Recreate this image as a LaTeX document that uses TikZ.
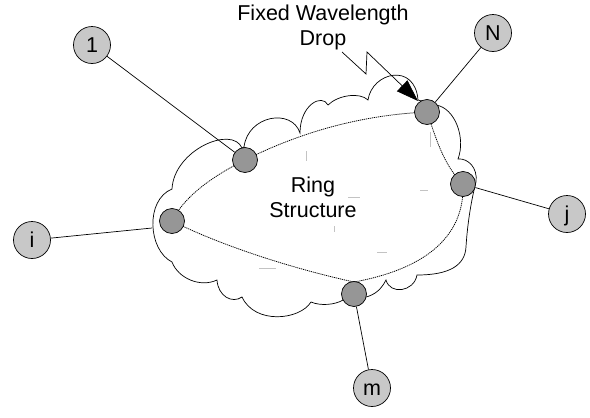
\documentclass[tikz,border=0pt]{standalone}
\usepackage{fontspec}
\setmainfont{Liberation Sans}
\usetikzlibrary{arrows.meta,backgrounds}
\definecolor{outerfill}{RGB}{200,200,200}
\definecolor{innerfill}{RGB}{150,150,150}
\definecolor{ghost}{RGB}{195,195,195}
\begin{document}
\begin{tikzpicture}[x=1pt,y=-1pt,
  every node/.style={font=\fontsize{21.5}{25}\selectfont},
  hostnode/.style={circle,draw,line width=0.7pt,fill=outerfill,minimum size=37pt,inner sep=0pt,text height=15.4pt,text depth=0pt},
  ringnode/.style={circle,draw,line width=0.7pt,fill=innerfill,minimum size=25pt,inner sep=0pt},
  link/.style={line width=0.7pt},
  cloudline/.style={line width=0.7pt},
  ringpath/.style={line width=0.75pt,dash pattern=on 1.2pt off 0.8pt},
  ghostmark/.style={draw=ghost,line width=0.8pt},
  captiontext/.style={align=center,inner sep=0pt}
]
\useasboundingbox (0,0) rectangle (590,418);

% outer host nodes
\node[hostnode] (one) at (92,45) {1};
\node[hostnode] (N) at (493,33) {N};
\node[hostnode] (j) at (567,214) {j};
\node[hostnode] (i) at (32,240) {i};
\node[hostnode] (m) at (372,388) {m};

% ring nodes
\node[ringnode] (A) at (245,160) {};
\node[ringnode] (B) at (427,112) {};
\node[ringnode] (C) at (463,184) {};
\node[ringnode] (D) at (172,221) {};
\node[ringnode] (E) at (354,294) {};

% texts
\node[captiontext] (ringtxt) at (313,197) {Ring\\Structure};
\node[captiontext] (droptxt) at (323,27) {Fixed Wavelength\\Drop};

\coordinate (iend) at (152,228);
\coordinate (z0) at (342,52);
\coordinate (z1) at (366,74);
\coordinate (z2) at (367,52);
\coordinate (dropTip) at (418,101);

\begin{scope}[on background layer]
% cloud
\draw[cloudline] (172,189) .. controls (174,150) and (232,125) .. (242,148)
  -- (244,147)
  .. controls (248,115) and (292,108) .. (300,133)
  .. controls (300,105) and (322,93) .. (328,105)
  .. controls (338,95) and (360,92) .. (368,100)
  .. controls (372,72) and (415,62) .. (418,100)
  -- (436,105)
  .. controls (455,108) and (466,138) .. (458,159)
  .. controls (468,158) and (478,168) .. (476,182)
  .. controls (470,205) and (467,230) .. (466,247)
  .. controls (465,265) and (450,275) .. (417,275)
  .. controls (414,292) and (390,295) .. (386,280)
  .. controls (380,292) and (372,296) .. (362,298)
  -- (343,300)
  .. controls (335,305) and (320,306) .. (311,302)
  .. controls (300,320) and (255,325) .. (242,297)
  .. controls (232,304) and (218,296) .. (217,280)
  .. controls (200,288) and (178,278) .. (172,262)
  .. controls (148,250) and (145,200) .. (172,189) -- cycle;

% faint marks
\draw[ghostmark] (306,151) -- (306,161);
\draw[ghostmark] (430,132) -- (430,147);
\draw[ghostmark] (420,190) -- (428,190);
\draw[ghostmark] (348,197) -- (360,197);
\draw[ghostmark] (334,226) -- (334,232);
\draw[ghostmark] (377,252) -- (387,252);
\draw[ghostmark] (259,268) -- (276,268);

% ring
\draw[ringpath] (A.center) .. controls (303,131) and (363,115) .. (B.center)
  .. controls (435,135) and (443,165) .. (C.center)
  .. controls (465,240) and (420,270) .. (354,282)
  .. controls (290,268) and (220,245) .. (D.center)
  .. controls (185,195) and (215,175) .. (A.center);

% links
\draw[link] (one) -- (A);
\draw[link] (N) -- (B);
\draw[link] (j) -- (C);
\draw[link] (i) -- (iend);
\draw[link] (E) -- (m);
\end{scope}

\draw[link,-{Triangle[length=22pt,width=15pt]}] (z0) -- (z1) -- (z2) -- (dropTip);
\end{tikzpicture}
\end{document}
